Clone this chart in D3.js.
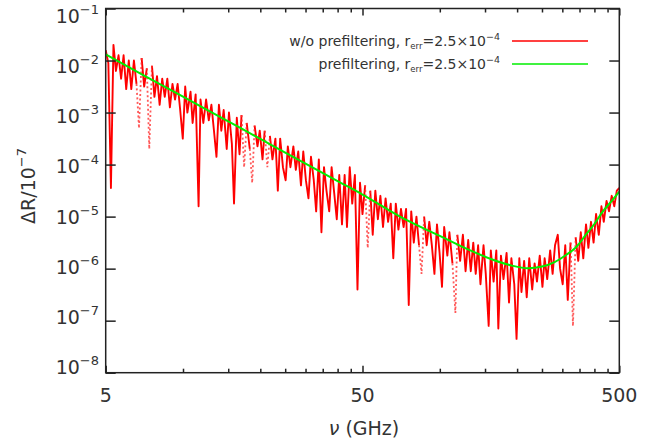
<!DOCTYPE html>
<html>
<head>
<meta charset="utf-8">
<script src="https://cdn.jsdelivr.net/npm/d3@7"></script>
<style>
html,body{margin:0;padding:0;background:#fff;}
svg{display:block;}
text{font-family:"DejaVu Sans",sans-serif;fill:#333;}
</style>
</head>
<body>
<svg id="chart" width="663" height="439"></svg>
<script>
// ---- data ----
const freqGHz = [5.00,5.12,5.24,5.36,5.48,5.61,5.74,5.87,6.01,6.15,6.29,6.44,6.59,6.74,6.90,7.06,7.23,7.39,7.57,7.74,
7.92,8.11,8.30,8.49,8.69,8.89,9.10,9.31,9.53,9.75,9.98,10.2,10.4,10.7,10.9,11.2,11.5,11.7,12.0,12.3,
12.6,12.9,13.2,13.5,13.8,14.1,14.4,14.8,15.1,15.5,15.8,16.2,16.6,16.9,17.3,17.7,18.2,18.6,19.0,19.5,
19.9,20.4,20.8,21.3,21.8,22.3,22.9,23.4,23.9,24.5,25.1,25.6,26.2,26.9,27.5,28.1,28.8,29.4,30.1,30.8,
31.5,32.3,33.0,33.8,34.6,35.4,36.2,37.1,37.9,38.8,39.7,40.6,41.6,42.6,43.5,44.6,45.6,46.7,47.8,48.9,
50.0,51.2,52.4,53.6,54.8,56.1,57.4,58.7,60.1,61.5,62.9,64.4,65.9,67.4,69.0,70.6,72.3,73.9,75.7,77.4,
79.2,81.1,83.0,84.9,86.9,88.9,91.0,93.1,95.3,97.5,99.8,102,104,107,109,112,115,117,120,123,
126,129,132,135,138,141,144,148,151,155,158,162,166,169,173,177,182,186,190,195,
199,204,208,213,218,223,229,234,239,245,251,256,262,269,275,281,288,294,301,308,
315,323,330,338,346,354,362,371,379,388,397,406,416,426,435,446,456,467,478,489,500];

const redNoPrefilter = [1.58e-2,8.91e-3,3.55e-5,2.00e-2,6.31e-3,1.26e-2,4.47e-3,1.26e-2,2.82e-3,1.00e-2,
2.82e-3,1.00e-2,3.55e-3,5.01e-4,1.12e-2,3.16e-3,7.08e-3,2.00e-4,7.94e-3,2.00e-3,
5.01e-3,1.41e-3,4.47e-3,2.00e-3,4.47e-3,1.26e-3,3.55e-3,1.78e-3,3.55e-3,1.12e-3,
3.16e-4,3.16e-3,1.00e-3,2.51e-3,6.31e-4,2.24e-3,1.58e-5,1.78e-3,6.31e-4,1.78e-3,
7.08e-4,1.41e-3,4.47e-4,1.41e-4,1.41e-3,4.47e-4,1.12e-3,2.00e-4,1.00e-3,2.51e-4,
1.78e-5,7.94e-4,1.58e-4,8.91e-4,8.91e-5,6.31e-4,2.00e-4,4.47e-5,5.62e-4,2.24e-4,
4.47e-4,1.26e-4,4.47e-4,8.91e-5,3.55e-4,1.26e-4,3.16e-4,3.16e-5,3.16e-4,8.91e-5,
5.01e-5,2.24e-4,8.91e-5,2.24e-4,7.94e-5,1.78e-4,3.98e-5,1.78e-4,5.01e-5,2.24e-5,
1.41e-4,5.01e-5,1.26e-5,1.26e-4,5.01e-6,8.91e-5,3.16e-5,1.26e-5,8.91e-5,2.82e-5,
8.91e-6,6.31e-5,7.08e-6,6.31e-5,6.31e-6,8.91e-5,1.78e-5,6.31e-5,3.98e-7,4.47e-5,
1.12e-5,3.98e-5,2.51e-6,3.16e-5,4.47e-6,3.16e-5,8.91e-6,2.51e-5,6.31e-6,2.24e-5,
7.94e-6,1.78e-5,1.58e-6,1.78e-5,5.62e-6,1.41e-5,6.31e-6,1.41e-5,2.00e-7,1.26e-5,
3.16e-6,1.00e-5,2.82e-6,7.94e-7,1.00e-5,2.82e-6,7.94e-6,2.82e-6,7.94e-7,7.08e-6,
2.00e-6,4.47e-7,6.31e-6,1.78e-6,5.01e-6,1.26e-6,1.41e-7,4.47e-6,1.41e-6,4.47e-6,
8.91e-7,3.55e-6,8.91e-7,3.16e-6,7.94e-7,2.82e-6,5.01e-7,2.82e-6,7.94e-7,7.94e-8,
2.24e-6,5.62e-7,2.24e-6,7.08e-8,1.78e-6,6.31e-7,2.00e-6,2.24e-7,1.58e-6,5.01e-7,
4.47e-8,1.58e-6,3.55e-7,1.41e-6,2.82e-7,1.58e-6,3.98e-7,1.26e-6,5.62e-7,1.78e-6,
4.47e-7,1.58e-6,6.31e-7,2.24e-6,7.94e-7,2.82e-6,4.47e-6,1.00e-6,5.01e-7,2.82e-6,
2.51e-7,3.16e-6,7.94e-8,3.98e-6,1.41e-6,5.01e-6,1.58e-6,7.08e-6,2.51e-6,7.94e-6,
3.16e-6,1.12e-5,4.47e-6,1.58e-5,7.94e-6,2.00e-5,1.26e-5,2.51e-5,1.58e-5,3.16e-5,3.55e-5];

// indices of red points whose adjoining segments appear dotted
const redDottedIdx = [13,17,54,57,63,102,123,136,182];

const greenFreqGHz = [5,7,10,15,20,30,40,50,70,100,130,160,190,220,250,280,310,340,370,400,430,460,500];
const greenPrefilter = [1.31e-2,5.27e-3,2.02e-3,6.76e-4,3.12e-4,1.04e-4,4.82e-5,2.66e-5,1.00e-5,4.25e-6,
2.29e-6,1.50e-6,1.15e-6,1.02e-6,1.10e-6,1.34e-6,1.83e-6,2.61e-6,4.44e-6,7.21e-6,1.23e-5,1.83e-5,3.01e-5];

const xMajorTicks = [5,50,500];
const xMinorTicks = [10,15,20,25,30,35,40,45,100,150,200,250,300,350,400,450];
const xTickLabels = ["5","50","500"];
const yDecadeExponents = [-1,-2,-3,-4,-5,-6,-7,-8];

const legendEntries = [
  {pre:"w/o prefiltering, r", sub:"err", mid:"=2.5\u00d710", sup:"\u22124", color:"#ff0000"},
  {pre:"prefiltering, r", sub:"err", mid:"=2.5\u00d710", sup:"\u22124", color:"#00ee00"}
];

// ---- layout ----
const L = 105.7, R = 619.3, T = 8.5, B = 372.7;
const svg = d3.select("#chart");
const x = d3.scaleLog().domain([5,500]).range([L,R]);
const y = d3.scaleLog().domain([1e-8,1e-1]).range([B,T]);

svg.append("defs").append("clipPath").attr("id","clip")
  .append("rect").attr("x",L).attr("y",T).attr("width",R-L).attr("height",B-T);

const plot = svg.append("g").attr("clip-path","url(#clip)");

const redData = freqGHz.map((f,i)=>({f, v:redNoPrefilter[i], i})).filter(d=>d.v!==undefined);
const dotted = new Set(redDottedIdx);
const line = d3.line().x(d=>x(d.f)).y(d=>y(d.v));

plot.append("path").datum(redData)
  .attr("d", line.defined(d=>!dotted.has(d.i)))
  .attr("fill","none").attr("stroke","#ff0000").attr("stroke-width",1.9)
  .attr("stroke-linejoin","round");
const line2 = d3.line().x(d=>x(d.f)).y(d=>y(d.v));
redDottedIdx.forEach(k=>{
  const seg = redData.slice(Math.max(0,k-1), k+2);
  plot.append("path").datum(seg).attr("d", line2)
    .attr("fill","none").attr("stroke","#ff3030").attr("stroke-width",1.8)
    .attr("stroke-dasharray","2,2.5").attr("opacity",0.8);
});

const greenData = greenFreqGHz.map((f,i)=>({f, v:greenPrefilter[i]}));
plot.append("path").datum(greenData)
  .attr("d", d3.line().x(d=>x(d.f)).y(d=>y(d.v)).curve(d3.curveMonotoneX))
  .attr("fill","none").attr("stroke","#00ee00").attr("stroke-width",2);

// ---- axes ----
const axCol = "#222";
function styleAxis(g){
  g.select(".domain").remove();
  g.selectAll(".tick line").attr("stroke",axCol).attr("stroke-width",1.5);
  g.selectAll(".tick text").remove();
}
svg.append("g").attr("transform",`translate(0,${B})`)
  .call(d3.axisBottom(x).tickValues(xMajorTicks).tickSize(-7).tickFormat(()=>"")).call(styleAxis);
svg.append("g").attr("transform",`translate(0,${B})`)
  .call(d3.axisBottom(x).tickValues(xMinorTicks).tickSize(-4).tickFormat(()=>"")).call(styleAxis);
svg.append("g").attr("transform",`translate(0,${T})`)
  .call(d3.axisTop(x).tickValues(xMajorTicks).tickSize(-7).tickFormat(()=>"")).call(styleAxis);
svg.append("g").attr("transform",`translate(0,${T})`)
  .call(d3.axisTop(x).tickValues(xMinorTicks).tickSize(-4).tickFormat(()=>"")).call(styleAxis);
const yTickVals = yDecadeExponents.map(e=>Math.pow(10,e));
svg.append("g").attr("transform",`translate(${L},0)`)
  .call(d3.axisLeft(y).tickValues(yTickVals).tickSize(-10).tickFormat(()=>"")).call(styleAxis);
svg.append("g").attr("transform",`translate(${R},0)`)
  .call(d3.axisRight(y).tickValues(yTickVals).tickSize(-10).tickFormat(()=>"")).call(styleAxis);

svg.append("rect").attr("x",L).attr("y",T).attr("width",R-L).attr("height",B-T)
  .attr("fill","none").attr("stroke",axCol).attr("stroke-width",1.5);

// x tick labels
xMajorTicks.forEach((v,i)=>{
  svg.append("text").attr("x",x(v)).attr("y",402).attr("text-anchor","middle")
    .attr("font-size",19).text(xTickLabels[i]);
});
// y tick labels (10^e)
const yLabelPos = d3.scaleLinear().domain([-1,-8]).range([16.3,366.7]);
yDecadeExponents.forEach(e=>{
  const t = svg.append("text").attr("x",99).attr("y",yLabelPos(e)+7).attr("text-anchor","end")
    .attr("font-size",19);
  t.append("tspan").text("10");
  t.append("tspan").attr("dy",-9).attr("font-size",13).text("\u2212"+Math.abs(e));
});

// axis titles
svg.append("text").attr("x",364).attr("y",435).attr("text-anchor","middle").attr("font-size",19)
  .call(t=>{
    t.append("tspan").attr("font-style","italic").text("\u03bd");
    t.append("tspan").text("  (GHz)");
  });
const yt = svg.append("text").attr("transform","translate(35,186) rotate(-90)")
  .attr("text-anchor","middle").attr("font-size",19);
yt.append("tspan").text("\u0394R/10");
yt.append("tspan").attr("dy",-9).attr("font-size",13).text("\u22127");

// legend
legendEntries.forEach((d,i)=>{
  const yy = 41 + i*23;
  const t = svg.append("text").attr("x",500).attr("y",yy+4.5).attr("text-anchor","end").attr("font-size",14);
  t.append("tspan").text(d.pre);
  t.append("tspan").attr("dy",3).attr("font-size",8.5).text(d.sub);
  t.append("tspan").attr("dy",-3).text(d.mid);
  t.append("tspan").attr("dy",-6).attr("font-size",9.5).text(d.sup);
  svg.append("line").attr("x1",512).attr("x2",588).attr("y1",yy).attr("y2",yy)
    .attr("stroke",d.color).attr("stroke-width",1.6);
});
</script>
</body>
</html>
